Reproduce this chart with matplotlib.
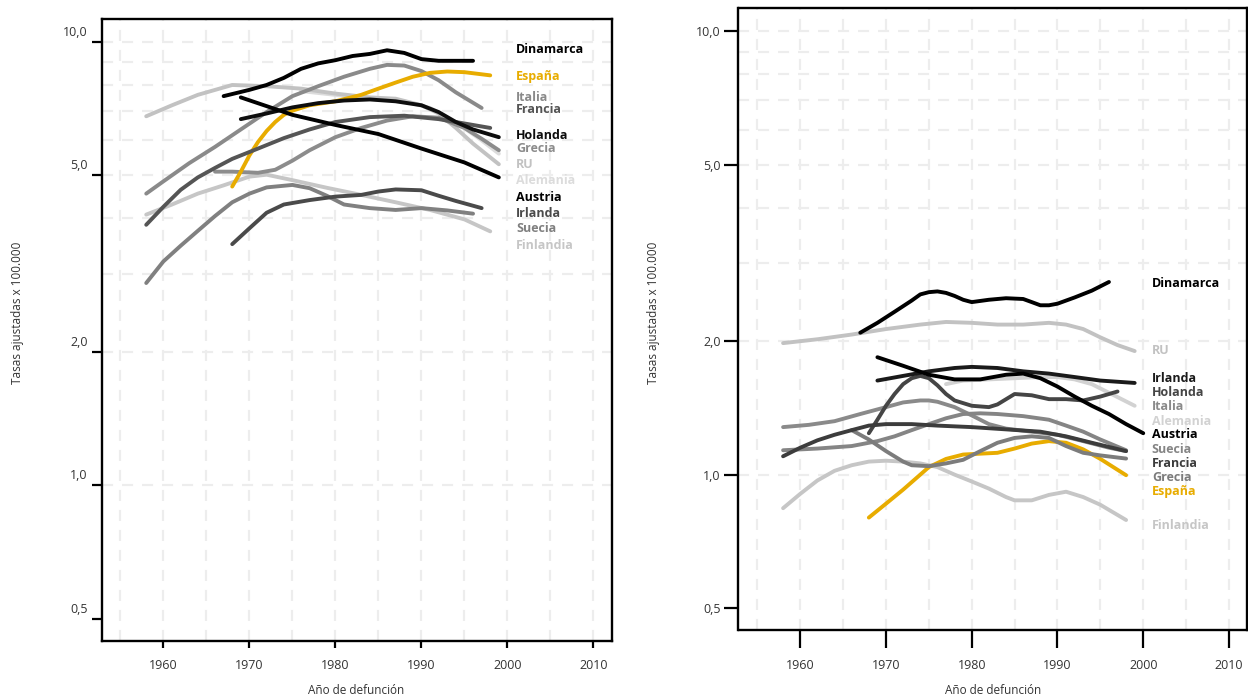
import matplotlib
matplotlib.use("Agg")
import matplotlib.pyplot as plt
from matplotlib.ticker import NullLocator, FixedLocator
from matplotlib.transforms import ScaledTranslation

plt.rcParams['font.family'] = ['Open Sans', 'DejaVu Sans']

# ---------------- Left panel data ----------------
L_dinamarca_x = [1967, 1970, 1972, 1974, 1976, 1978, 1980, 1982, 1984, 1986, 1988, 1990, 1992, 1994, 1996]
L_dinamarca_y = [7.55, 7.8, 8.0, 8.3, 8.7, 8.95, 9.1, 9.3, 9.4, 9.58, 9.45, 9.15, 9.07, 9.07, 9.07]
L_espana_x = [1968, 1969, 1970, 1971, 1972, 1973, 1974, 1975, 1977, 1980, 1983, 1985, 1987, 1989, 1991, 1993, 1995, 1998]
L_espana_y = [4.72, 5.1, 5.55, 5.95, 6.3, 6.6, 6.85, 7.0, 7.2, 7.35, 7.6, 7.85, 8.1, 8.35, 8.52, 8.58, 8.55, 8.41]
L_italia_x = [1958, 1960, 1963, 1966, 1969, 1972, 1975, 1978, 1981, 1984, 1986, 1988, 1990, 1992, 1994, 1997]
L_italia_y = [4.55, 4.85, 5.33, 5.8, 6.35, 6.95, 7.55, 7.95, 8.35, 8.7, 8.88, 8.85, 8.6, 8.2, 7.7, 7.1]
L_francia_x = [1958, 1960, 1962, 1964, 1966, 1968, 1971, 1974, 1977, 1980, 1984, 1988, 1992, 1995, 1998]
L_francia_y = [3.87, 4.25, 4.64, 4.95, 5.2, 5.45, 5.75, 6.07, 6.35, 6.6, 6.77, 6.82, 6.7, 6.55, 6.4]
L_holanda_x = [1969, 1972, 1975, 1978, 1981, 1984, 1987, 1990, 1992, 1994, 1996, 1999]
L_holanda_y = [6.7, 6.9, 7.12, 7.28, 7.38, 7.42, 7.35, 7.2, 6.95, 6.6, 6.35, 6.1]
L_grecia_x = [1966, 1968, 1971, 1973, 1975, 1977, 1980, 1983, 1986, 1989, 1992, 1995, 1997, 1999]
L_grecia_y = [5.1, 5.1, 5.07, 5.15, 5.4, 5.7, 6.1, 6.4, 6.65, 6.8, 6.75, 6.4, 6.05, 5.7]
L_ru_x = [1958, 1961, 1964, 1968, 1972, 1976, 1980, 1984, 1987, 1990, 1992, 1994, 1996, 1999]
L_ru_y = [6.8, 7.2, 7.6, 8.0, 7.95, 7.85, 7.65, 7.5, 7.45, 7.2, 6.9, 6.4, 5.9, 5.3]
L_alemania_x = [1976, 1980, 1984, 1988, 1991, 1994, 1997, 1999]
L_alemania_y = [7.75, 7.6, 7.45, 7.35, 7.1, 6.6, 6.0, 5.6]
L_austria_x = [1969, 1975, 1980, 1985, 1990, 1995, 1999]
L_austria_y = [7.5, 6.85, 6.5, 6.2, 5.75, 5.35, 4.95]
L_irlanda_x = [1968, 1970, 1972, 1974, 1977, 1980, 1983, 1985, 1987, 1990, 1992, 1994, 1997]
L_irlanda_y = [3.5, 3.8, 4.12, 4.3, 4.4, 4.48, 4.52, 4.6, 4.65, 4.63, 4.5, 4.38, 4.22]
L_suecia_x = [1958, 1960, 1962, 1964, 1966, 1968, 1970, 1972, 1975, 1977, 1979, 1981, 1984, 1987, 1990, 1993, 1996]
L_suecia_y = [2.86, 3.2, 3.47, 3.75, 4.05, 4.35, 4.55, 4.7, 4.76, 4.68, 4.5, 4.3, 4.22, 4.18, 4.22, 4.17, 4.1]
L_finlandia_x = [1958, 1961, 1964, 1967, 1970, 1972, 1975, 1979, 1983, 1987, 1991, 1995, 1998]
L_finlandia_y = [4.08, 4.3, 4.55, 4.75, 4.97, 5.02, 4.88, 4.69, 4.52, 4.35, 4.18, 3.98, 3.74]

# ---------------- Right panel data ----------------
R_dinamarca_x = [1967, 1969, 1971, 1973, 1974, 1975, 1976, 1977, 1978, 1979, 1980, 1982, 1984, 1986, 1987, 1988, 1989, 1990, 1992, 1994, 1996]
R_dinamarca_y = [2.09, 2.2, 2.33, 2.47, 2.55, 2.58, 2.59, 2.57, 2.53, 2.48, 2.45, 2.48, 2.5, 2.49, 2.45, 2.41, 2.41, 2.43, 2.51, 2.6, 2.72]
R_ru_x = [1958, 1962, 1966, 1970, 1974, 1977, 1980, 1983, 1986, 1989, 1991, 1993, 1995, 1997, 1999]
R_ru_y = [1.98, 2.02, 2.07, 2.13, 2.18, 2.21, 2.2, 2.18, 2.18, 2.2, 2.18, 2.13, 2.04, 1.96, 1.90]
R_irlanda_x = [1969, 1972, 1975, 1978, 1980, 1983, 1986, 1989, 1992, 1995, 1999]
R_irlanda_y = [1.63, 1.67, 1.71, 1.74, 1.75, 1.74, 1.71, 1.69, 1.66, 1.63, 1.61]
R_holanda_x = [1968, 1969, 1970, 1971, 1972, 1973, 1974, 1975, 1976, 1977, 1978, 1980, 1982, 1983, 1985, 1987, 1989, 1991, 1993, 1995, 1997]
R_holanda_y = [1.24, 1.33, 1.43, 1.52, 1.6, 1.65, 1.67, 1.65, 1.59, 1.52, 1.47, 1.43, 1.42, 1.44, 1.52, 1.51, 1.48, 1.48, 1.47, 1.5, 1.54]
R_italia_x = [1958, 1961, 1964, 1967, 1970, 1972, 1974, 1975, 1976, 1978, 1980, 1982, 1984, 1987, 1990, 1993, 1996, 1998]
R_italia_y = [1.28, 1.295, 1.32, 1.37, 1.42, 1.455, 1.47, 1.47, 1.46, 1.42, 1.36, 1.3, 1.27, 1.25, 1.23, 1.19, 1.15, 1.13]
R_alemania_x = [1977, 1979, 1982, 1985, 1988, 1990, 1992, 1994, 1996, 1999]
R_alemania_y = [1.60, 1.63, 1.64, 1.65, 1.66, 1.66, 1.64, 1.6, 1.53, 1.43]
R_austria_x = [1969, 1972, 1975, 1978, 1981, 1984, 1986, 1988, 1990, 1992, 1994, 1996, 1998, 2000]
R_austria_y = [1.84, 1.76, 1.68, 1.64, 1.64, 1.68, 1.69, 1.65, 1.58, 1.50, 1.43, 1.37, 1.30, 1.24]
R_suecia_x = [1958, 1962, 1966, 1969, 1971, 1973, 1975, 1977, 1979, 1981, 1983, 1986, 1989, 1991, 1993, 1995, 1998]
R_suecia_y = [1.135, 1.145, 1.16, 1.19, 1.22, 1.26, 1.3, 1.34, 1.37, 1.375, 1.37, 1.355, 1.33, 1.29, 1.25, 1.2, 1.135]
R_francia_x = [1958, 1960, 1962, 1964, 1966, 1968, 1970, 1973, 1976, 1980, 1984, 1988, 1991, 1994, 1998]
R_francia_y = [1.1, 1.15, 1.195, 1.23, 1.26, 1.29, 1.3, 1.3, 1.29, 1.28, 1.265, 1.25, 1.22, 1.18, 1.13]
R_grecia_x = [1966, 1968, 1970, 1972, 1973, 1975, 1977, 1979, 1981, 1983, 1985, 1987, 1989, 1991, 1993, 1995, 1998]
R_grecia_y = [1.26, 1.2, 1.13, 1.07, 1.05, 1.045, 1.06, 1.08, 1.13, 1.18, 1.21, 1.22, 1.21, 1.16, 1.12, 1.105, 1.087]
R_espana_x = [1968, 1970, 1972, 1974, 1975, 1977, 1979, 1981, 1983, 1985, 1987, 1989, 1991, 1993, 1995, 1998]
R_espana_y = [0.80, 0.86, 0.925, 1.0, 1.04, 1.085, 1.11, 1.115, 1.12, 1.145, 1.175, 1.19, 1.18, 1.14, 1.085, 0.997]
R_finlandia_x = [1958, 1960, 1962, 1964, 1966, 1968, 1970, 1972, 1974, 1976, 1978, 1980, 1982, 1984, 1985, 1987, 1989, 1991, 1993, 1995, 1998]
R_finlandia_y = [0.84, 0.905, 0.97, 1.02, 1.05, 1.07, 1.075, 1.07, 1.06, 1.04, 1.0, 0.965, 0.93, 0.89, 0.875, 0.875, 0.9, 0.915, 0.89, 0.855, 0.79]

# label names (in drawing order of labels) and label anchor values
L_names = ['Dinamarca', 'España', 'Italia', 'Francia', 'Holanda', 'Grecia', 'RU', 'Alemania',
           'Austria', 'Irlanda', 'Suecia', 'Finlandia']
R_names = ['Dinamarca', 'RU', 'Irlanda', 'Holanda', 'Italia', 'Alemania', 'Austria', 'Suecia',
           'Francia', 'Grecia', 'España', 'Finlandia']

y_ticks = [0.5, 1, 2, 5, 10]
y_ticklabels = ['0,5', '1,0', '2,0', '5,0', '10,0']
x_ticks = [1960, 1970, 1980, 1990, 2000, 2010]

# styles
ORANGE = '#e8ac00'
L_colors = {'Dinamarca': '#000000', 'España': ORANGE, 'Italia': '#8a8a8a', 'Francia': '#555555',
            'Holanda': '#0d0d0d', 'Grecia': '#8c8c8c', 'RU': '#c2c2c2', 'Alemania': '#dcdcdc',
            'Austria': '#000000', 'Irlanda': '#4a4a4a', 'Suecia': '#808080', 'Finlandia': '#c6c6c6'}
R_colors = {'Dinamarca': '#000000', 'RU': '#c2c2c2', 'Irlanda': '#1a1a1a', 'Holanda': '#454545',
            'Italia': '#8a8a8a', 'Alemania': '#d2d2d2', 'Austria': '#000000', 'Suecia': '#858585',
            'Francia': '#3c3c3c', 'Grecia': '#7c7c7c', 'España': ORANGE, 'Finlandia': '#c6c6c6'}

L_series = {'Dinamarca': (L_dinamarca_x, L_dinamarca_y), 'España': (L_espana_x, L_espana_y),
            'Italia': (L_italia_x, L_italia_y), 'Francia': (L_francia_x, L_francia_y),
            'Holanda': (L_holanda_x, L_holanda_y), 'Grecia': (L_grecia_x, L_grecia_y),
            'RU': (L_ru_x, L_ru_y), 'Alemania': (L_alemania_x, L_alemania_y),
            'Austria': (L_austria_x, L_austria_y), 'Irlanda': (L_irlanda_x, L_irlanda_y),
            'Suecia': (L_suecia_x, L_suecia_y), 'Finlandia': (L_finlandia_x, L_finlandia_y)}
R_series = {'Dinamarca': (R_dinamarca_x, R_dinamarca_y), 'RU': (R_ru_x, R_ru_y),
            'Irlanda': (R_irlanda_x, R_irlanda_y), 'Holanda': (R_holanda_x, R_holanda_y),
            'Italia': (R_italia_x, R_italia_y), 'Alemania': (R_alemania_x, R_alemania_y),
            'Austria': (R_austria_x, R_austria_y), 'Suecia': (R_suecia_x, R_suecia_y),
            'Francia': (R_francia_x, R_francia_y), 'Grecia': (R_grecia_x, R_grecia_y),
            'España': (R_espana_x, R_espana_y), 'Finlandia': (R_finlandia_x, R_finlandia_y)}

# label anchor positions (data units)
L_label_y = [9.64, 8.38, 7.50, 7.03, 6.14, 5.74, 5.28, 4.86, 4.47, 4.11, 3.79, 3.48]
R_label_y = [2.70, 1.91, 1.646, 1.535, 1.428, 1.321, 1.233, 1.140, 1.060, 0.984, 0.918, 0.766]
LABEL_X = 2001.0

# draw order: light lines first, dark on top
def z_for(color):
    if color == ORANGE:
        return 3.5
    v = int(color[1:3], 16)
    return 3 + (255 - v) / 255.0

W, H = 1248, 699
fig = plt.figure(figsize=(W / 100, H / 100), dpi=100)
ax1 = fig.add_axes([101.5 / W, (H - 641) / H, 510 / W, 622 / H])
ax2 = fig.add_axes([738.5 / W, (H - 630.3) / H, 508.5 / W, 622 / H])

GRID = '#ededed'


def setup(ax, ytick_len, xtick_len, ylab_dy_px, xpad, ypad):
    ax.set_yscale('log')
    ax.set_xlim(1952.8, 2012.1)
    ax.set_ylim(0.4455, 11.27)
    for s in ax.spines.values():
        s.set_linewidth(1.7)
        s.set_color('black')
        s.set_zorder(10)
    ax.yaxis.set_major_locator(FixedLocator(y_ticks))
    ax.yaxis.set_minor_locator(NullLocator())
    ax.set_yticklabels(y_ticklabels)
    ax.set_xticks(x_ticks)
    ax.set_xticklabels([str(t) for t in x_ticks])
    ax.tick_params(axis='y', length=ytick_len, width=1.6, color='black', pad=ypad,
                   labelsize=9, labelcolor='#333333')
    ax.tick_params(axis='x', length=xtick_len, width=1.6, color='black', pad=xpad,
                   labelsize=9, labelcolor='#333333')
    if ylab_dy_px:
        off = ScaledTranslation(0, ylab_dy_px / 100, fig.dpi_scale_trans)
        for lab in ax.get_yticklabels():
            lab.set_transform(lab.get_transform() + off)
    for yr in range(1955, 2011, 5):
        ax.axvline(yr, color=GRID, lw=1.6, ls=(0, (5, 4)), zorder=0)
    for v in range(1, 11):
        ax.axhline(v, color=GRID, lw=1.6, ls=(0, (5, 4)), zorder=0)


def draw(ax, series, colors, names, label_y):
    for name, (xs, ys) in series.items():
        c = colors[name]
        ax.plot(xs, ys, color=c, lw=2.8, solid_capstyle='round', solid_joinstyle='round',
                zorder=z_for(c))
    for name, ly in zip(names, label_y):
        ax.text(LABEL_X, ly, name, color=colors[name], fontsize=9, fontweight='bold',
                va='center', ha='left', zorder=12)


setup(ax1, ytick_len=7, xtick_len=5, ylab_dy_px=11, xpad=8, ypad=3)
setup(ax2, ytick_len=10, xtick_len=13, ylab_dy_px=0, xpad=8, ypad=3)
draw(ax1, L_series, L_colors, L_names, L_label_y)
draw(ax2, R_series, R_colors, R_names, R_label_y)

fig.text(356.5 / W, 1 - 691 / H, 'Año de defunción', ha='center', va='center', fontsize=8.5, color='#333333')
fig.text(992.7 / W, 1 - 691 / H, 'Año de defunción', ha='center', va='center', fontsize=8.5, color='#333333')
fig.text(18 / W, 1 - 313 / H, 'Tasas ajustadas x 100.000', rotation=90, ha='center', va='center',
         fontsize=8.5, color='#333333')
fig.text(653 / W, 1 - 313 / H, 'Tasas ajustadas x 100.000', rotation=90, ha='center', va='center',
         fontsize=8.5, color='#333333')

fig.savefig('out.png', dpi=100)
